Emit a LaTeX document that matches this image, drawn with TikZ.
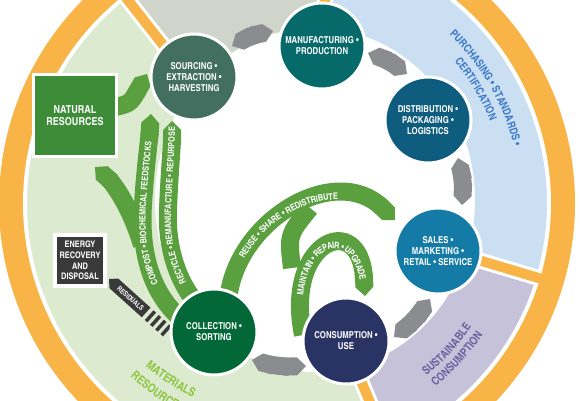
\documentclass[tikz,border=0pt]{standalone}
\usepackage{fontspec}
\setmainfont{texgyreheroscn}[Extension=.otf,UprightFont=*-regular,BoldFont=*-bold,ItalicFont=*-italic,BoldItalicFont=*-bolditalic]
\usetikzlibrary{arrows.meta,decorations.text}
\definecolor{orng}{HTML}{F8B446}
\definecolor{secgreen}{HTML}{DCEACF}
\definecolor{secgrey}{HTML}{CFD5CA}
\definecolor{secblue}{HTML}{CBDFF2}
\definecolor{seclav}{HTML}{C6C2DA}
\definecolor{bandgreen}{HTML}{5AA03F}
\definecolor{conngrey}{HTML}{8B8C8F}
\definecolor{cSrc}{HTML}{426F5F}
\definecolor{cMan}{HTML}{06696A}
\definecolor{cDis}{HTML}{0E5D7E}
\definecolor{cSal}{HTML}{137BA6}
\definecolor{cCon}{HTML}{293465}
\definecolor{cCol}{HTML}{036838}
\definecolor{boxgreen}{HTML}{3D8C37}
\definecolor{boxdark}{HTML}{3A3A3A}
\definecolor{txtblue}{HTML}{3B78C9}
\definecolor{txtlav}{HTML}{6A62A0}
\definecolor{txtgreen}{HTML}{8DC63F}
\begin{document}
\begin{tikzpicture}[x=1pt,y=1pt,
  proc/.style={circle, draw=white, line width=3pt, minimum size=86pt, inner sep=0pt,
    text=white, align=center, font=\bfseries\fontsize{9.5}{11}\selectfont},
  band/.style={draw=bandgreen, line width=18pt, -{Triangle Cap[]}},
  conn/.style={draw=conngrey, line width=18pt, {Triangle Cap[]}-{Triangle Cap[]}},
  divw/.style={white, line width=16pt},
  divo/.style={orng, line width=10pt},
  boxstyle/.style={draw=white, text=white, align=center},
]
\useasboundingbox (0,0) rectangle (580,400);
\fill[white] (0,0) rectangle (580,400);
% outer ring and sectors
\fill[orng] (287,197) circle[radius=288];
\begin{scope}[shift={(287,197)}]
  \draw[white,line width=4pt,fill=secgreen] (0,0) -- (128.1:262) arc[start angle=128.1,end angle=292.6,radius=262] -- cycle;
  \draw[white,line width=4pt,fill=secgrey] (0,0) -- (79.4:262) arc[start angle=79.4,end angle=128.1,radius=262] -- cycle;
  \draw[white,line width=4pt,fill=secblue] (0,0) -- (-16.6:262) arc[start angle=-16.6,end angle=79.4,radius=262] -- cycle;
  \draw[white,line width=4pt,fill=seclav] (0,0) -- (-67.4:262) arc[start angle=-67.4,end angle=-16.6,radius=262] -- cycle;
  \foreach \a in {128.1,79.4,-16.6,-67.4}{
    \draw[divw] (\a:110) -- (\a:264);
    \draw[divo] (\a:110) -- (\a:280);
  }
\end{scope}
\fill[white] (315,200) ellipse[x radius=160, y radius=172];
% sector labels
\path[shift={(287,197)}, decorate, decoration={text along path, text align=center,
  text={|\color{txtblue}\bfseries\fontsize{11}{13}\selectfont|PURCHASING • STANDARDS •}}]
  (60:234) arc[start angle=60,end angle=0,radius=234];
\path[shift={(287,197)}, decorate, decoration={text along path, text align=center,
  text={|\color{txtblue}\bfseries\fontsize{11}{13}\selectfont|CERTIFICATION}}]
  (62:219) arc[start angle=62,end angle=0,radius=219];
\path[shift={(287,197)}, decorate, decoration={text along path, text align=center,
  text={|\color{txtlav}\bfseries\fontsize{11.5}{13}\selectfont|SUSTAINABLE}}]
  (-72:222) arc[start angle=-72,end angle=-13,radius=222];
\path[shift={(287,197)}, decorate, decoration={text along path, text align=center,
  text={|\color{txtlav}\bfseries\fontsize{11.5}{13}\selectfont|CONSUMPTION}}]
  (-72:236) arc[start angle=-72,end angle=-13,radius=236];
\path[shift={(287,197)}, decorate, decoration={text along path, text align=left,
  text={|\color{txtgreen}\bfseries\fontsize{12}{13}\selectfont|MATERIALS}}]
  (229:216) arc[start angle=229,end angle=300,radius=216];
\path[shift={(287,197)}, decorate, decoration={text along path, text align=left,
  text={|\color{txtgreen}\bfseries\fontsize{12}{13}\selectfont|RESOURCES}}]
  (228:234) arc[start angle=228,end angle=300,radius=234];
% grey connectors
\draw[conn] (232,354) to[bend left=8] (273,369);
\draw[conn] (368,347) to[bend left=8] (407,326);
\draw[conn] (458,242) to[bend left=8] (462,195);
\draw[conn] (430,101) to[bend left=8] (394,63);
\draw[conn] (306,34) to[bend left=8] (252,40);
% green loops
\draw[band] (142,155) .. controls (130,195) and (112,218) .. (95,233);
\draw[band] (110,292) .. controls (130,296) .. (147,326);
\draw[band] (185,78) .. controls (150,105) and (140,150) .. (143,195) .. controls (145,230) and (149,258) .. (151,286);
\draw[band] (205,88) .. controls (180,110) and (166,150) .. (168,190) .. controls (169,220) and (172,255) .. (172,279);
\draw[band] (228,100) .. controls (236,180) and (335,238) .. (395,180);
\draw[bandgreen, line width=18pt] (292,132) .. controls (288,165) .. (310,192);
\draw[band] (303,65) .. controls (284,160) and (360,190) .. (365,104);
% band texts
\path[decorate, decoration={text along path, text align={left indent=48pt}, raise=-3.1pt,
  text={|\color{white}\bfseries\fontsize{8.8}{10}\selectfont|COMPOST • BIOCHEMICAL FEEDSTOCKS}}]
  (185,78) .. controls (150,105) and (140,150) .. (143,195) .. controls (145,230) and (149,258) .. (151,286);
\path[decorate, decoration={text along path, text align={left indent=36pt}, raise=-3.1pt,
  text={|\color{white}\bfseries\fontsize{8.8}{10}\selectfont|RECYCLE • REMANUFACTURE • REPURPOSE}}]
  (205,88) .. controls (180,110) and (166,150) .. (168,190) .. controls (169,220) and (172,255) .. (172,279);
\path[decorate, decoration={text along path, text align={left indent=45pt}, raise=-3.1pt,
  text={|\color{white}\bfseries\fontsize{9}{10}\selectfont|REUSE • SHARE • REDISTRIBUTE}}]
  (228,100) .. controls (236,180) and (335,238) .. (395,180);
\path[decorate, decoration={text along path, text align={left indent=40pt}, raise=-3.1pt,
  text={|\color{white}\bfseries\fontsize{9}{10}\selectfont|MAINTAIN • REPAIR • UPGRADE}}]
  (303,65) .. controls (284,160) and (360,190) .. (365,104);
% residuals
\begin{scope}[shift={(109,121)}, rotate=-42]
  \fill[boxdark] (0,0) -- (6.5,6.5) -- (50,6.5) -- (50,-6.5) -- (6.5,-6.5) -- cycle;
  \foreach \s in {54,61,68,75} \fill[boxdark] (\s,-6.5) rectangle ++(3.5,13);
  \node[text=white, font=\bfseries\fontsize{7}{7}\selectfont, rotate=-42, inner sep=0pt] (res) at (29,0) {RESIDUALS};
\end{scope}
% boxes
\node[boxstyle, fill=boxgreen, line width=3pt, minimum width=83pt, minimum height=82pt,
  font=\bfseries\fontsize{11}{12.5}\selectfont] (nat) at (75,284.5) {NATURAL\\RESOURCES};
\node[boxstyle, fill=boxdark, line width=4pt, minimum width=50pt, minimum height=51pt, inner sep=0pt,
  font=\bfseries\fontsize{9}{10.7}\selectfont] (erd) at (80,139.5) {ENERGY\\RECOVERY\\AND\\DISPOSAL};
% process circles
\node[proc, fill=cSrc] (src) at (194,323) {SOURCING •\\EXTRACTION •\\HARVESTING};
\node[proc, fill=cMan] (man) at (322,354) {MANUFACTURING •\\PRODUCTION};
\node[proc, fill=cDis] (dis) at (428,280) {DISTRIBUTION •\\PACKAGING •\\LOGISTICS};
\node[proc, fill=cSal] (sal) at (438,149) {SALES •\\MARKETING •\\RETAIL • SERVICE};
\node[proc, fill=cCon] (con) at (346,59) {CONSUMPTION •\\USE};
\node[proc, fill=cCol] (col) at (214,68) {COLLECTION •\\SORTING};
\end{tikzpicture}
\end{document}
